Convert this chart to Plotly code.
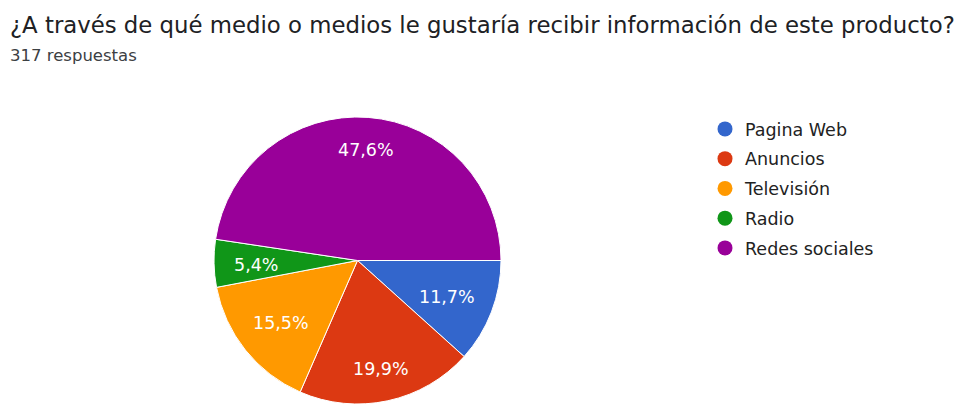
import math
import plotly.graph_objects as go

# Survey answers (317 responses)
categories = ["Pagina Web", "Anuncios", "Televisión", "Radio", "Redes sociales"]
responses = [37, 63, 49, 17, 151]
colors = ["#3366cc", "#dc3912", "#ff9900", "#109618", "#990099"]

title = "¿A través de qué medio o medios le gustaría recibir información de este producto?"
subtitle = "317 respuestas"

W, H = 964, 404
FONT = "DejaVu Sans"
cx, cy, R = 357.5, 260.5, 143.5   # pie centre and radius in pixels

fig = go.Figure()
fig.add_trace(go.Pie(
    labels=categories,
    values=responses,
    marker=dict(colors=colors, line=dict(color="white", width=1)),
    sort=False,
    direction="clockwise",
    rotation=90,
    textinfo="none",
    showlegend=False,
    hoverinfo="label+percent",
    domain=dict(x=[(cx - R) / W, (cx + R) / W], y=[0, 2 * R / H]),
))

# Percentage labels inside each slice, pushed outward along the slice bisector
# until the outer corner of the text box reaches a fixed fraction of the radius.
label_size = 17.5
char_w = {"%": 0.95, ",": 0.318}
total = sum(responses)
cum = 0.0
for v in responses:
    frac = v / total
    ang = 2 * math.pi * (cum + frac / 2)   # clockwise from 3 o'clock
    cum += frac
    txt = f"{frac * 100:.1f}%".replace(".", ",")
    hw = sum(char_w.get(ch, 0.636) for ch in txt) * label_size / 2
    hh = 6.5
    a, b = abs(math.cos(ang)), abs(math.sin(ang))
    D = 0.865 * R
    p = a * hw + b * hh
    r = -p + math.sqrt(p * p - (hw * hw + hh * hh - D * D))
    px = cx + r * math.cos(ang)
    py = cy + r * math.sin(ang) + 2   # small baseline correction
    fig.add_annotation(text=txt, x=px / W, y=1 - py / H, xref="paper", yref="paper",
                       xanchor="center", yanchor="middle", showarrow=False,
                       font=dict(family=FONT, size=label_size, color="white"))

# Legend entries drawn as round markers
for name, col in zip(categories, colors):
    fig.add_trace(go.Scatter(
        x=[None], y=[None], mode="markers", name=name, legendgroup=name,
        marker=dict(symbol="circle", size=15, color=col),
    ))

fig.add_annotation(text=title, x=8 / W, y=1 - 25 / H, xref="paper", yref="paper",
                   xanchor="left", yanchor="middle", showarrow=False,
                   font=dict(family=FONT, size=22.8, color="#202124"))
fig.add_annotation(text=subtitle, x=8 / W, y=1 - 55 / H, xref="paper", yref="paper",
                   xanchor="left", yanchor="middle", showarrow=False,
                   font=dict(family=FONT, size=16.5, color="#3c4043"))

fig.update_layout(
    width=W, height=H,
    margin=dict(l=0, r=0, t=0, b=0),
    paper_bgcolor="white", plot_bgcolor="white",
    xaxis=dict(visible=False), yaxis=dict(visible=False),
    legend=dict(x=705 / W, y=1 - 111 / H, xanchor="left", yanchor="top",
                font=dict(family=FONT, size=17.5, color="#222222"),
                tracegroupgap=4, itemsizing="trace", bgcolor="rgba(0,0,0,0)"),
)

fig.write_html("out.html")
